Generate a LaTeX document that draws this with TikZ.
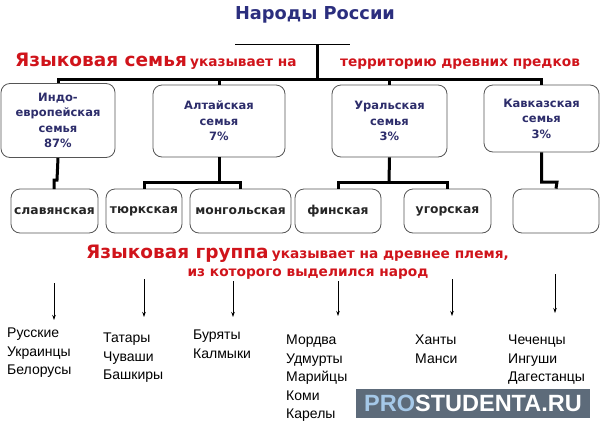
\documentclass[tikz,border=0pt]{standalone}
\usepackage{fontspec}
\setmainfont{DejaVu Sans}
\newfontfamily\arialf{Liberation Sans}
\usetikzlibrary{arrows.meta}
\definecolor{navy}{HTML}{2B2E7E}
\definecolor{boxnavy}{HTML}{2D2D6B}
\definecolor{redt}{HTML}{D0141B}
\definecolor{wmbg}{HTML}{5D6B7A}
\definecolor{wmpro}{HTML}{A5C8E8}
\definecolor{bord}{HTML}{555555}
\tikzset{
  fam/.style={draw=bord, line width=0.8pt, rounded corners=9pt, fill=white, align=center,
    font=\fontsize{11.5}{15.5}\selectfont\bfseries, text=boxnavy, inner sep=0pt},
  grp/.style={draw=bord, line width=0.8pt, rounded corners=9pt, fill=white, align=center,
    minimum height=44pt, font=\fontsize{12.3}{14}\selectfont\bfseries, text=black!85, inner sep=0pt},
  thick3/.style={line width=3pt},
  arr/.style={-{Stealth[length=5pt,width=3.5pt]}, line width=0.7pt},
  lst/.style={anchor=north west, align=left, inner sep=0pt, font=\arialf\fontsize{14}{18.5}\selectfont},
}
\newcommand{\bigred}[1]{\textcolor{redt}{\fontsize{18.5}{20}\selectfont\bfseries #1}}
\newcommand{\smallred}[1]{\textcolor{redt}{\fontsize{13.7}{16}\selectfont\bfseries #1}}
\begin{document}
\begin{tikzpicture}[x=1pt,y=-1pt]
\useasboundingbox (0,0) rectangle (600,429);

% title
\node[text=navy, font=\fontsize{17.8}{20}\selectfont\bfseries, inner sep=0pt] (title) at (315,15) {Народы России};

% top connector
\coordinate (tl) at (235,44);
\coordinate (tr) at (350,44);
\coordinate (tm) at (317,44);
\coordinate (bm) at (317,79);
\draw[line width=0.8pt] (tl) -- (tr);
\draw[thick3] (tm) -- (bm);

% red text line 1
\node[inner sep=0pt, anchor=base west] (ys) at (15,66) {\bigred{Языковая семья} \smallred{указывает на}};
\node[inner sep=0pt, anchor=base] (terr) at (460,66) {\smallred{территорию древних предков}};

% family boxes
\node[fam, minimum width=114pt, minimum height=74pt] (f1) at (58,120.5) {Индо-\\европейская\\семья\\87\%};
\node[fam, minimum width=132pt, minimum height=72pt] (f2) at (219,121) {Алтайская\\семья\\7\%};
\node[fam, minimum width=115pt, minimum height=72pt] (f3) at (389.5,121) {Уральская\\семья\\3\%};
\node[fam, minimum width=115pt, minimum height=67pt] (f4) at (541.5,118.5) {Кавказская\\семья\\3\%};

% bar to families
\draw[thick3] (f1.north) |- (bm) -| (f4.north);
\draw[thick3] (f2.north) -- (f2.north |- bm);
\draw[thick3] (f3.north) -- (f3.north |- bm);

% group boxes
\node[grp, minimum width=87pt] (g1) at (54.5,211) {славянская};
\node[grp, minimum width=76pt] (g2) at (144,211) {тюркская};
\node[grp, minimum width=101pt] (g3) at (240.5,211) {монгольская};
\node[grp, minimum width=86pt] (g4) at (338,211) {финская};
\node[grp, minimum width=87pt] (g5) at (447.5,211) {угорская};
\node[grp, minimum width=86pt] (g6) at (556,211) {};

% connectors family -> group
\draw[thick3] (f1.south) -- (57,180) -- (54,180) -- (54,189);
\draw[thick3] (f2.south) -- (219,182);
\draw[thick3] (g2.north) |- (219,182) -| (g3.north);
\draw[thick3] (f3.south) -- (389,182);
\draw[thick3] (g4.north) |- (389,182) -| (g5.north);
\draw[thick3] (f4.south) |- (557,182) -- (g6.north);

% red text 2
\node[inner sep=0pt, anchor=base west] (yg) at (86,258) {\bigred{Языковая группа} \smallred{указывает на древнее племя,}};
\node[inner sep=0pt, anchor=base] (yg2) at (308,276) {\smallred{из которого выделился народ}};

% arrows
\coordinate (a1s) at (54,283); \coordinate (a1e) at (54,320);
\coordinate (a2s) at (144,279); \coordinate (a2e) at (144,317);
\coordinate (a3s) at (233,281); \coordinate (a3e) at (233,317);
\coordinate (a4s) at (338,281); \coordinate (a4e) at (338,316);
\coordinate (a5s) at (452,279); \coordinate (a5e) at (452,316);
\coordinate (a6s) at (555,274); \coordinate (a6e) at (555,313);
\draw[arr] (a1s) -- (a1e);
\draw[arr] (a2s) -- (a2e);
\draw[arr] (a3s) -- (a3e);
\draw[arr] (a4s) -- (a4e);
\draw[arr] (a5s) -- (a5e);
\draw[arr] (a6s) -- (a6e);

% lists
\node[lst] (l1) at (7,328) {Русские\\Украинцы\\Белорусы};
\node[lst] (l2) at (103,333) {Татары\\Чуваши\\Башкиры};
\node[lst] (l3) at (193,330) {Буряты\\Калмыки};
\node[lst] (l4) at (286,335) {Мордва\\Удмурты\\Марийцы\\Коми\\Карелы};
\node[lst] (l5) at (415,335) {Ханты\\Манси};
\node[lst] (l6) at (508,335) {Чеченцы\\Ингуши\\Дагестанцы};

% watermark
\node[fill=wmbg, minimum width=234pt, minimum height=29pt, inner sep=0pt, font=\arialf\fontsize{23.5}{26}\selectfont\bfseries] (wm) at (473,403.5) {\textcolor{wmpro}{PRO}\textcolor{white}{STUDENTA.RU}};
\end{tikzpicture}
\end{document}
